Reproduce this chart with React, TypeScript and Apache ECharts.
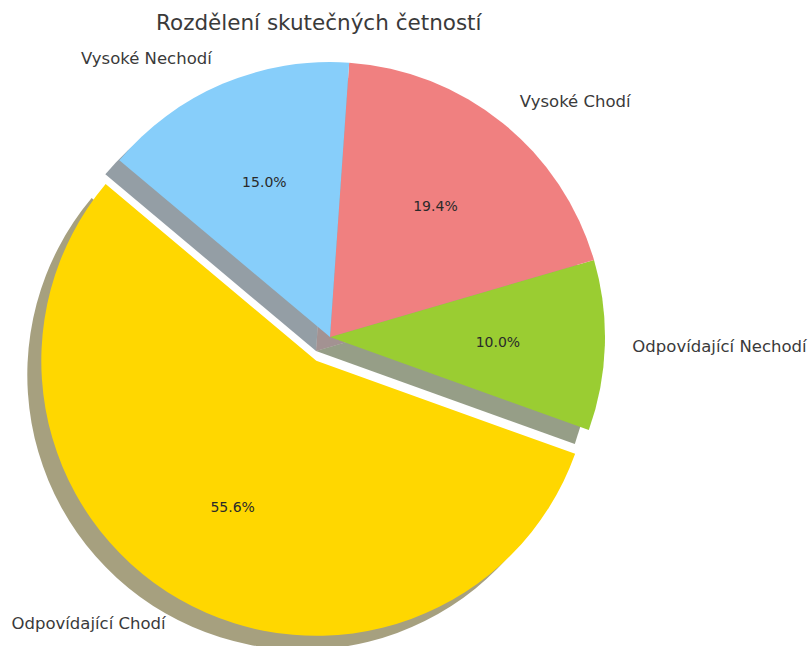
import React, { useEffect, useRef } from "react";
import * as echarts from "echarts";

const titleText = "Rozdělení skutečných četností";
const categories = ["Odpovídající Chodí", "Odpovídající Nechodí", "Vysoké Chodí", "Vysoké Nechodí"];
const counts = [89, 16, 31, 24];
const colors = ["#FFD700", "#9ACD32", "#F08080", "#87CEFA"];
const exploded = [true, false, false, false];

const FONT = "DejaVu Sans";

function shadowColor(hex: string): string {
  const r = parseInt(hex.slice(1, 3), 16);
  const g = parseInt(hex.slice(3, 5), 16);
  const b = parseInt(hex.slice(5, 7), 16);
  return `rgba(${Math.round(r * 0.3)},${Math.round(g * 0.3)},${Math.round(b * 0.3)},0.5)`;
}

export default function App() {
  const ref = useRef<HTMLDivElement>(null);
  useEffect(() => {
    if (!ref.current) return;
    const chart = echarts.init(ref.current, undefined, { renderer: "svg" });
    const R = 275;
    const cx = 330;
    const cy = 337;
    const common = {
      type: "pie",
      startAngle: 140,
      clockwise: false,
      selectedMode: "single",
      selectedOffset: R * 0.1,
      avoidLabelOverlap: false,
      emphasis: { disabled: true, scale: false },
      silent: true,
      animation: false,
    };
    chart.setOption({
      animation: false,
      title: {
        text: titleText,
        left: 151,
        top: 6,
        textStyle: { fontFamily: FONT, fontSize: 21.5, fontWeight: "normal", color: "#3a3a3a" },
      },
      series: [
        {
          ...common,
          name: "shadow",
          center: [cx - 14, cy + 14],
          radius: [0, R],
          label: { show: false },
          labelLine: { show: false },
          data: categories.map((c, i) => ({
            name: c,
            value: counts[i],
            selected: exploded[i],
            itemStyle: { color: shadowColor(colors[i]), borderWidth: 0 },
          })),
        },
        {
          ...common,
          name: "main",
          center: [cx, cy],
          radius: [0, R],
          label: {
            show: true,
            position: "outside",
            fontFamily: FONT,
            fontSize: 16.5,
            color: "#3a3a3a",
            distanceToLabelLine: 0,
            formatter: "{b}",
          },
          labelLine: { show: false, length: R * 0.1, length2: 0 },
          data: categories.map((c, i) => ({
            name: c,
            value: counts[i],
            selected: exploded[i],
            itemStyle: { color: colors[i], borderWidth: 0 },
          })),
        },
        {
          ...common,
          name: "pct",
          center: [cx, cy],
          radius: [R * 0.2, R],
          label: {
            show: true,
            position: "inside",
            fontFamily: FONT,
            fontSize: 14,
            color: "#2a2a2a",
            formatter: (p: any) => p.percent.toFixed(1) + "%",
          },
          labelLine: { show: false },
          data: categories.map((c, i) => ({
            name: c,
            value: counts[i],
            selected: exploded[i],
            itemStyle: { color: "rgba(0,0,0,0)", borderWidth: 0 },
          })),
        },
      ],
    });
    return () => chart.dispose();
  }, []);
  return (
    <div
      ref={ref}
      style={{ position: "fixed", left: 0, top: 0, width: 808, height: 646, background: "#fff" }}
    />
  );
}
